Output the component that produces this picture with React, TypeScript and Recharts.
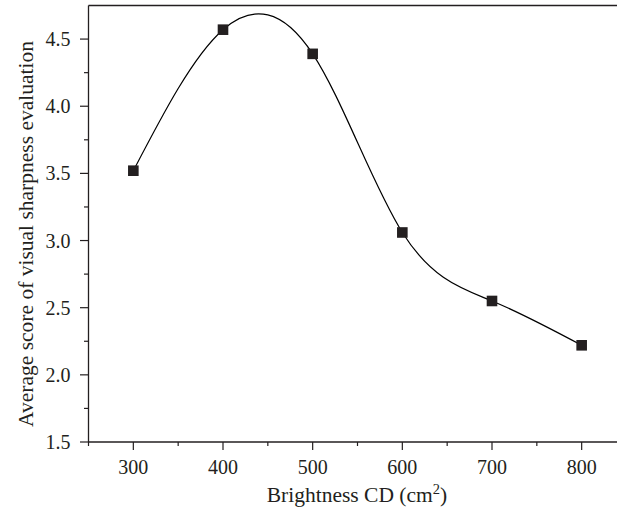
import React from "react";
import { LineChart, Line, XAxis, YAxis, ReferenceLine } from "recharts";

const brightness = [300, 400, 500, 600, 700, 800];
const scores = [3.52, 4.57, 4.39, 3.06, 2.55, 2.22];

const xTicks = [250, 300, 350, 400, 450, 500, 550, 600, 650, 700, 750, 800, 850];
const xMajor = [300, 400, 500, 600, 700, 800];
const yTicks = [1.5, 1.75, 2.0, 2.25, 2.5, 2.75, 3.0, 3.25, 3.5, 3.75, 4.0, 4.25, 4.5];
const yMajor = [1.5, 2.0, 2.5, 3.0, 3.5, 4.0, 4.5];

const xTitle = "Brightness CD (cm";
const yTitle = "Average score of visual sharpness evaluation";

const data = brightness.map((b, i) => ({ x: b, y: scores[i] }));

const FONT = "'Liberation Serif', 'Times New Roman', serif";
const INK = "#231f20";

const YTick = (props: any) => {
  const { x, y, payload } = props;
  const major = yMajor.some((v) => Math.abs(v - payload.value) < 1e-6);
  return (
    <g>
      <line x1={x - (major ? 8.5 : 4.5)} x2={x} y1={y} y2={y} stroke={INK} strokeWidth={1.2} />
      {major && (
        <text x={x - 18} y={y} textAnchor="end" dominantBaseline="central" fontFamily={FONT} fontSize={20} fill={INK}>
          {payload.value.toFixed(1)}
        </text>
      )}
    </g>
  );
};

const XTick = (props: any) => {
  const { x, y, payload } = props;
  const major = xMajor.includes(payload.value);
  return (
    <g>
      <line x1={x} x2={x} y1={y} y2={y + (major ? 8 : 4)} stroke={INK} strokeWidth={1.2} />
      {major && (
        <text x={x} y={y + 31.5} textAnchor="middle" fontFamily={FONT} fontSize={20} fill={INK}>
          {payload.value}
        </text>
      )}
    </g>
  );
};

const Square = (props: any) => {
  const { cx, cy } = props;
  if (cx == null || cy == null) return null;
  return <rect x={cx - 5.3} y={cy - 5.3} width={10.6} height={10.6} fill={INK} />;
};

const XLabel = (props: any) => {
  const vb = props.viewBox;
  return (
    <text x={vb.x + vb.width / 2 - 0.5} y={502} textAnchor="middle" fontFamily={FONT} fontSize={21.5} fill={INK}>
      {xTitle}
      <tspan dy={-8} fontSize={14.5}>2</tspan>
      <tspan dy={8}>)</tspan>
    </text>
  );
};

const YLabel = () => {
  const cx = 33;
  const cy = 234;
  return (
    <text
      x={cx}
      y={cy}
      transform={`rotate(-90 ${cx} ${cy})`}
      textAnchor="middle"
      fontFamily={FONT}
      fontSize={21.5}
      fill={INK}
    >
      {yTitle}
    </text>
  );
};

export default function App() {
  return (
    <div style={{ position: "absolute", left: 0, top: 0, width: 617, height: 513, overflow: "hidden", background: "#fff" }}>
      <LineChart width={660} height={513} data={data} margin={{ top: 5.5, right: 33.5, bottom: 0, left: 0 }}>
        <XAxis
          dataKey="x"
          type="number"
          domain={[250, 850]}
          ticks={xTicks}
          interval={0}
          tickSize={0}
          tickMargin={0}
          tick={<XTick />}
          height={71}
          stroke={INK}
          strokeWidth={1.3}
          allowDataOverflow
          label={<XLabel />}
        />
        <YAxis
          type="number"
          domain={[1.5, 4.75]}
          ticks={yTicks}
          interval={0}
          tickSize={0}
          tickMargin={0}
          tick={<YTick />}
          width={88.5}
          stroke={INK}
          strokeWidth={1.3}
          allowDataOverflow
          label={<YLabel />}
        />
        <ReferenceLine y={4.75} stroke={INK} strokeWidth={1.3} />
        <ReferenceLine x={850} stroke={INK} strokeWidth={1.3} />
        <Line
          type="natural"
          dataKey="y"
          stroke="#000"
          strokeWidth={1.2}
          dot={<Square />}
          activeDot={false}
          isAnimationActive={false}
        />
      </LineChart>
    </div>
  );
}
